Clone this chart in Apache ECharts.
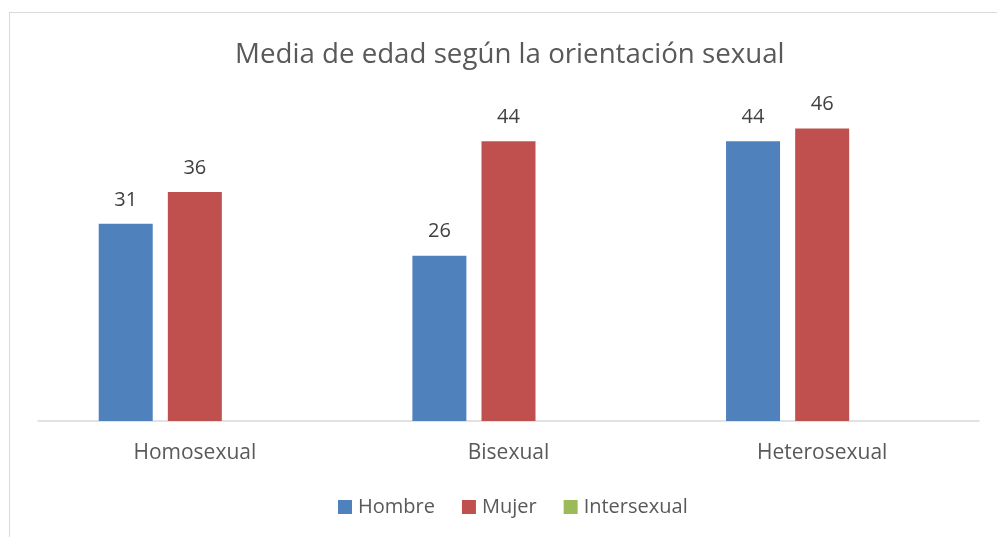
<!DOCTYPE html>
<html>
<head>
<meta charset="utf-8">
<script src="https://cdn.jsdelivr.net/npm/echarts@6/dist/echarts.min.js"></script>
<style>
  html, body { margin: 0; padding: 0; overflow: hidden; background: #fff; }
  /* marco del gráfico, se sale por la derecha y abajo */
  .frame {
    position: absolute; left: 9px; top: 12px;
    width: 1100px; height: 700px;
    border: 1px solid #D9D9D9;
  }
  #chart { position: absolute; left: 0; top: 0; width: 997px; height: 537px; }
</style>
</head>
<body>
<div class="frame"></div>
<div id="chart"></div>
<script>
// datos
const categorias = ['Homosexual', 'Bisexual', 'Heterosexual'];
const hombre = [31, 26, 44];
const mujer = [36, 44, 46];
const intersexual = [null, null, null];

const fuente = '"Open Sans", sans-serif';

const etiqueta = {
  show: true,
  position: 'top',
  distance: 14,
  color: '#404040',
  fontSize: 20,
  fontFamily: fuente
};

const chart = echarts.init(document.getElementById('chart'));

chart.setOption({
  animation: false,
  title: {
    text: 'Media de edad según la orientación sexual',
    left: 230,
    top: 36,
    textStyle: {
      color: '#595959',
      fontSize: 27.7,
      fontWeight: 'normal',
      fontFamily: fuente
    }
  },
  legend: {
    bottom: 15,
    left: 333,
    itemWidth: 14,
    itemHeight: 14,
    itemGap: 27,
    icon: 'rect',
    textStyle: { color: '#595959', fontSize: 20, fontFamily: fuente, padding: [0, 0, 0, 1] },
    data: ['Hombre', 'Mujer', 'Intersexual']
  },
  grid: {
    left: 38,
    right: 18,
    top: 103,
    bottom: 116,
    containLabel: false
  },
  xAxis: {
    type: 'category',
    data: categorias,
    axisLine: { lineStyle: { color: '#D9D9D9', width: 1.5 } },
    axisTick: { show: false },
    axisLabel: {
      color: '#595959',
      fontSize: 21,
      fontFamily: fuente,
      margin: 22
    }
  },
  yAxis: {
    type: 'value',
    min: 0,
    max: 50,
    show: false,
    splitLine: { show: false }
  },
  series: [
    {
      name: 'Hombre',
      type: 'bar',
      data: hombre,
      barWidth: 54,
      barGap: '28%',
      itemStyle: { color: '#4F81BD' },
      label: etiqueta
    },
    {
      name: 'Mujer',
      type: 'bar',
      data: mujer,
      barWidth: 54,
      barGap: '28%',
      itemStyle: { color: '#C0504D' },
      label: etiqueta
    },
    {
      name: 'Intersexual',
      type: 'bar',
      data: intersexual,
      barWidth: 54,
      barGap: '28%',
      itemStyle: { color: '#9BBB59' },
      label: etiqueta
    }
  ]
});

window.addEventListener('resize', () => chart.resize());
</script>
</body>
</html>
